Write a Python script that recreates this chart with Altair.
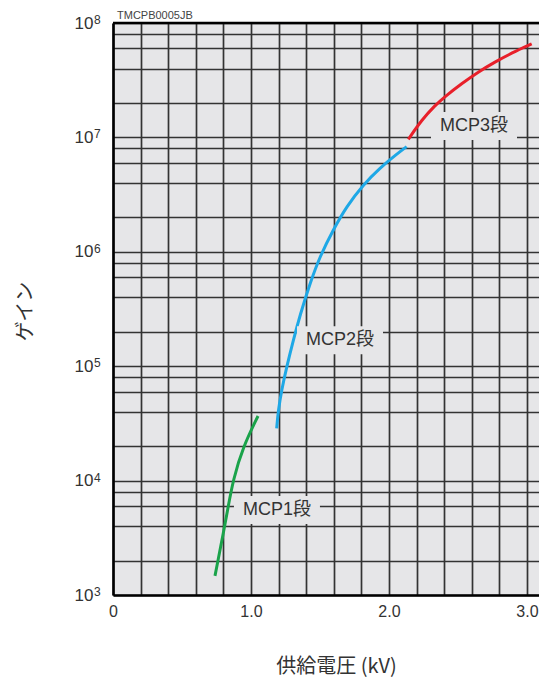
import altair as alt
import pandas as pd

# --- data -------------------------------------------------------------------
mcp1_kv = [0.739, 0.804, 0.833, 0.870, 0.942, 1.051]
mcp1_gain = [1.47e3, 3.70e3, 5.75e3, 1.01e4, 1.97e4, 3.67e4]

mcp2_kv = [1.186, 1.198, 1.222, 1.259, 1.307, 1.355, 1.428, 1.500, 1.596,
           1.693, 1.814, 1.935, 2.056, 2.128]
mcp2_gain = [2.86e4, 4.14e4, 6.19e4, 9.91e4, 1.69e5, 2.79e5, 5.32e5, 9.16e5,
             1.56e6, 2.50e6, 3.87e6, 5.42e6, 7.14e6, 8.31e6]

mcp3_kv = [2.140, 2.237, 2.333, 2.406, 2.527, 2.647, 2.768, 2.889, 3.034]
mcp3_gain = [9.62e6, 1.42e7, 1.90e7, 2.28e7, 2.96e7, 3.74e7, 4.57e7, 5.47e7, 6.56e7]

series_names = ["MCP1段", "MCP2段", "MCP3段"]
series_colors = ["#1aa34a", "#1ea8e6", "#e8202a"]

label_text = ["MCP1段", "MCP2段", "MCP3段"]
label_kv = [1.188, 1.645, 2.616]
label_gain = [5.53e3, 1.69e5, 1.26e7]

chart_code = ["TMCPB0005JB"]

x_ticks = [round(i * 0.2, 1) for i in range(16)]
y_ticks = [float(k * 10 ** n) for n in range(3, 8) for k in (1, 2, 4, 6, 8)] + [1e8]
exponents = [3, 4, 5, 6, 7, 8]

# --- tables -------------------------------------------------------------------
rows = []
for name, xs, ys in zip(series_names, [mcp1_kv, mcp2_kv, mcp3_kv],
                        [mcp1_gain, mcp2_gain, mcp3_gain]):
    for i, (a, b) in enumerate(zip(xs, ys)):
        rows.append({"series": name, "kv": a, "gain": b, "order": i})
curves = pd.DataFrame(rows)
labels = pd.DataFrame({"text": label_text, "kv": label_kv, "gain": label_gain})
exps = pd.DataFrame({"exp": [str(e) for e in exponents],
                     "gain": [10.0 ** e for e in exponents]})
top = pd.DataFrame({"gain": [1e8]})
code = pd.DataFrame({"text": chart_code})

FONT = "Liberation Sans, Arial, Noto Sans CJK JP"
CJK = "Noto Sans CJK JP"
TXT = "#333333"
BG = "#e6e6e8"

x_scale = alt.Scale(domain=[0, 3.087], nice=False, zero=False)
y_scale = alt.Scale(type="log", domain=[1e3, 1e8], nice=False)

x_axis = alt.Axis(
    values=x_ticks, grid=True, gridColor="#333333", gridWidth=1.7,
    ticks=False, domain=True, domainColor="black", domainWidth=2.6,
    labelExpr="abs(datum.value - round(datum.value)) < 0.001 ? (datum.value == 0 ? '0' : format(datum.value, '.1f')) : ''",
    labelFontSize=16, labelFont=FONT, labelColor=TXT, labelPadding=8,
    labelFlush=False, labelOverlap=False,
    title="供給電圧 (kV)", titleFont=CJK, titleFontSize=20,
    titleFontWeight="normal", titleColor=TXT,
    titleX=223, titleY=71, titleBaseline="middle", titleAlign="center",
)
y_axis = alt.Axis(
    values=y_ticks, grid=True, gridColor="#333333", gridWidth=1.7,
    ticks=False, domain=True, domainColor="black", domainWidth=2.6,
    labelExpr="abs(log(datum.value)/LN10 - round(log(datum.value)/LN10)) < 0.001 ? '10' : ''",
    labelFontSize=17, labelFont=FONT, labelColor=TXT, labelPadding=20,
    labelBaseline="middle", labelFlush=False, labelOverlap=False,
    title="ゲイン", titleFont=CJK, titleFontSize=20,
    titleFontWeight="normal", titleColor=TXT,
    titleX=-88, titleY=288, titleBaseline="middle", titleAlign="center",
)

X = alt.X("kv:Q", scale=x_scale, axis=x_axis)
Y = alt.Y("gain:Q", scale=y_scale, axis=y_axis)

lines = alt.Chart(curves).mark_line(strokeWidth=3, interpolate="basis", clip=True).encode(
    x=X, y=Y,
    color=alt.Color("series:N", scale=alt.Scale(domain=series_names, range=series_colors), legend=None),
    order="order:Q",
)

boxes = alt.Chart(labels).mark_rect(width=86, height=28, fill=BG).encode(x=X, y=Y)
texts = alt.Chart(labels).mark_text(fontSize=18, font=FONT, color=TXT,
                                    align="center", baseline="middle").encode(
    x=X, y=Y, text="text:N"
)

exp_text = alt.Chart(exps).mark_text(fontSize=12, font=FONT, color=TXT,
                                     align="left", baseline="middle", dy=-3).encode(
    x=alt.value(-19), y=Y, text="exp:N"
)

top_rule = alt.Chart(top).mark_rule(strokeWidth=2.6, color="black").encode(y=Y)

code_text = alt.Chart(code).mark_text(fontSize=11, font=FONT, color="#444444",
                                      align="left", baseline="alphabetic").encode(
    x=alt.value(4), y=alt.value(-4), text="text:N"
)

chart = alt.layer(lines, boxes, texts, exp_text, top_rule, code_text).properties(
    width=426, height=572,
    autosize=alt.AutoSizeParams(type="none"),
    padding={"left": 105, "top": 15, "right": 0, "bottom": 84},
).configure_view(fill=BG, strokeWidth=0, stroke="transparent")

chart.save("out.html", embed_options={"renderer": "svg", "actions": False})
